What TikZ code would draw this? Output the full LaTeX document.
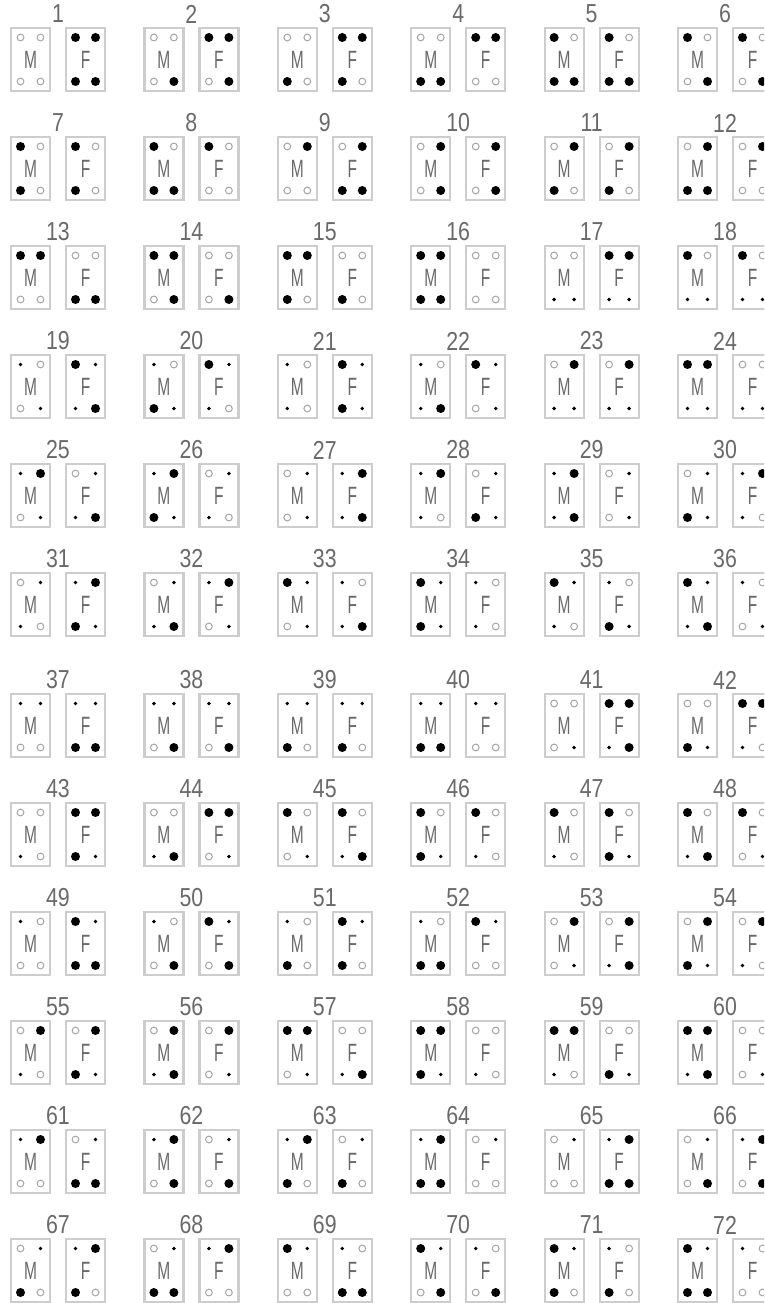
\documentclass[tikz,border=0pt]{standalone}
\usepackage{fontspec}
\usetikzlibrary{calc}
\newfontfamily\labfont[FakeStretch=0.82]{Liberation Sans}
\newfontfamily\letfont[FakeStretch=0.62]{Liberation Sans}
\definecolor{boxgray}{RGB}{205,205,205}
\definecolor{txtgray}{RGB}{105,105,105}
\definecolor{ringgray}{RGB}{165,165,165}
\newcommand\mkO[1]{\draw[ringgray, line width=1pt] (#1) circle[radius=3.4];}
\newcommand\mkB[1]{\fill[black] (#1) circle[radius=4.5];}
\newcommand\mks[1]{\fill[black] (#1) circle[radius=1.9];}
\newcommand\fourmk[5]{%
  \csname mk#2\endcsname{$(#1.center)+(-10,-22)$}%
  \csname mk#3\endcsname{$(#1.center)+(10,-22)$}%
  \csname mk#4\endcsname{$(#1.center)+(-10,22)$}%
  \csname mk#5\endcsname{$(#1.center)+(10,22)$}%
}
\begin{document}
\begin{tikzpicture}[x=1pt,y=-1pt,
  mfbox/.style={draw=boxgray, line width=2.2pt, minimum width=39pt, minimum height=63pt,
    inner sep=0pt, text=txtgray, font=\letfont\fontsize{25}{25}\selectfont},
  lab/.style={inner sep=0pt, text=txtgray, font=\labfont\fontsize{26}{26}\selectfont}]
\useasboundingbox (0,0) rectangle (764,1303);
\clip (0,0) rectangle (764,1303);
\foreach \n/\m/\f in {
 1/OOOO/BBBB, 2/OOOB/BBOB, 3/OOBO/BBBO, 4/OOBB/BBOO, 5/BOBB/BOBB, 6/BOOB/BOOB,
 7/BOBO/BOBO, 8/BOBB/BOOO, 9/OBOO/OBBB, 10/OBOB/OBOB, 11/OBBO/OBBO, 12/OBBB/OBOO,
 13/BBOO/OOBB, 14/BBOB/OOOB, 15/BBBO/OOBO, 16/BBBB/OOOO, 17/OOss/BBss, 18/BOss/BOss,
 19/sOOs/BssB, 20/sOBs/BssO, 21/sOsO/BsBs, 22/sOsB/BsOs, 23/OBss/OBss, 24/BBss/OOss,
 25/sBOs/OssB, 26/sBBs/OssO, 27/OsOs/sBsB, 28/sBsO/OsBs, 29/sBsB/OsOs, 30/OsBs/sBsO,
 31/OssO/sBBs, 32/OssB/sBOs, 33/BsOs/sOsB, 34/BsBs/sOsO, 35/BssO/sOBs, 36/BssB/sOOs,
 37/ssOO/ssBB, 38/ssOB/ssOB, 39/ssBO/ssBO, 40/ssBB/ssOO, 41/OOOs/BBsB, 42/OOBs/BBsO,
 43/OOsO/BBBs, 44/OOsB/BBOs, 45/BOOs/BOsB, 46/BOBs/BOsO, 47/BOsO/BOBs, 48/BOsB/BOOs,
 49/sOOO/BsBB, 50/sOOB/BsOB, 51/sOBO/BsBO, 52/sOBB/BsOO, 53/OBOs/OBsB, 54/OBBs/OBsO,
 55/OBsO/OBBs, 56/OBsB/OBOs, 57/BBOs/OOsB, 58/BBBs/OOsO, 59/BBsO/OOBs, 60/BBsB/OOOs,
 61/sBOO/OsBB, 62/sBOB/OsOB, 63/sBBO/OsBO, 64/sBBB/OsOO, 65/OsOO/sBBB, 66/OsOB/sBOB,
 67/OsBO/sBBO, 68/OsBB/sBOO, 69/BsOO/sOBB, 70/BsOB/sOOB, 71/BsBO/sOBO, 72/BsBB/sOOO}{
  \pgfmathtruncatemacro\c{mod(\n-1,6)}
  \pgfmathtruncatemacro\r{div(\n-1,6)}
  \pgfmathsetmacro\xl{11+133.4*\c}
  \pgfmathsetmacro\yt{28+109*\r+(\r>5)*12}
  \node[mfbox] (M\n) at (\xl+19.5,\yt+31.5) {M};
  \node[mfbox] (F\n) at (\xl+74.5,\yt+31.5) {F};
  \node[lab] (L\n) at (\xl+47,\yt-14) {\n};
  \edef\tmp{\noexpand\fourmk{M\n}\m}\tmp
  \edef\tmp{\noexpand\fourmk{F\n}\f}\tmp
}
\end{tikzpicture}
\end{document}
